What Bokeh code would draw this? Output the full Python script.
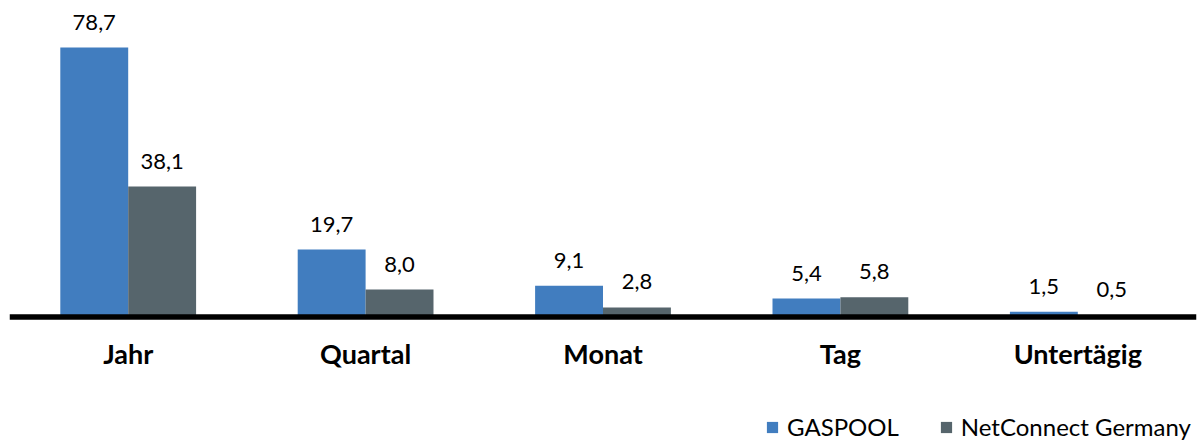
from bokeh.plotting import figure
from bokeh.models import ColumnDataSource, FactorRange, Range1d, Span, Legend, LegendItem, LabelSet
from bokeh.core.properties import value
from bokeh.transform import dodge
from bokeh.embed import file_html
from bokeh.resources import INLINE

categories = ["Jahr", "Quartal", "Monat", "Tag", "Untertägig"]
gaspool = [78.7, 19.7, 9.1, 5.4, 1.5]
ncg = [38.1, 8.0, 2.8, 5.8, 0.5]
series_names = ["GASPOOL", "NetConnect Germany"]

def fmt(v):
    return f"{v:.1f}".replace(".", ",")

src = ColumnDataSource(dict(
    cat=categories,
    zero=[0] * len(categories),
    g=gaspool,
    n=ncg,
    gl=[fmt(v) for v in gaspool],
    nl=[fmt(v) for v in ncg],
))

BLUE = "#417DBF"
GREY = "#56656C"
FONT = "Lato"

p = figure(x_range=FactorRange(*categories), y_range=Range1d(-36.36, 90.1),
           frame_width=1187, frame_height=433, output_backend="svg", toolbar_location=None,
           min_border_left=9, min_border_right=7, min_border_top=8, min_border_bottom=0)
p.outline_line_color = None
p.xgrid.visible = False
p.ygrid.visible = False
p.yaxis.visible = False
p.xaxis.visible = False
p.background_fill_color = None
p.border_fill_color = None

bw = 0.286
rg = p.vbar(x=dodge("cat", -bw / 2, range=p.x_range), top="g", bottom=0, width=bw,
            source=src, fill_color=BLUE, line_color=None)
rn = p.vbar(x=dodge("cat", bw / 2, range=p.x_range), top="n", bottom=0, width=bw,
            source=src, fill_color=GREY, line_color=None)

for col, lab, off in (("g", "gl", -bw / 2), ("n", "nl", bw / 2)):
    ls = LabelSet(x=dodge("cat", off, range=p.x_range), y=col, text=lab, source=src,
                  text_align="center", text_baseline="alphabetic", y_offset=18,
                  text_font=value(FONT), text_font_size=value("22px"), text_color="#000000")
    p.add_layout(ls)

# category labels under the baseline
cl = LabelSet(x="cat", y="zero", text="cat", source=src, text_align="center",
              text_baseline="alphabetic", y_offset=-46.5,
              text_font=value(FONT), text_font_style="bold", text_font_size=value("27px"),
              text_color="#000000")
p.add_layout(cl)

p.add_layout(Span(location=0, dimension="width", line_color="#000000", line_width=5.5))

legend = Legend(items=[LegendItem(label=series_names[0], renderers=[rg]),
                       LegendItem(label=series_names[1], renderers=[rn])],
                orientation="horizontal", location=(756, 0),
                glyph_width=14, glyph_height=14, label_standoff=8, spacing=40,
                padding=0, margin=0, border_line_color=None, background_fill_alpha=0,
                label_text_font=FONT, label_text_font_size="24px", label_text_color="#000000")
p.add_layout(legend)

open("out.html", "w").write(file_html(p, INLINE))
